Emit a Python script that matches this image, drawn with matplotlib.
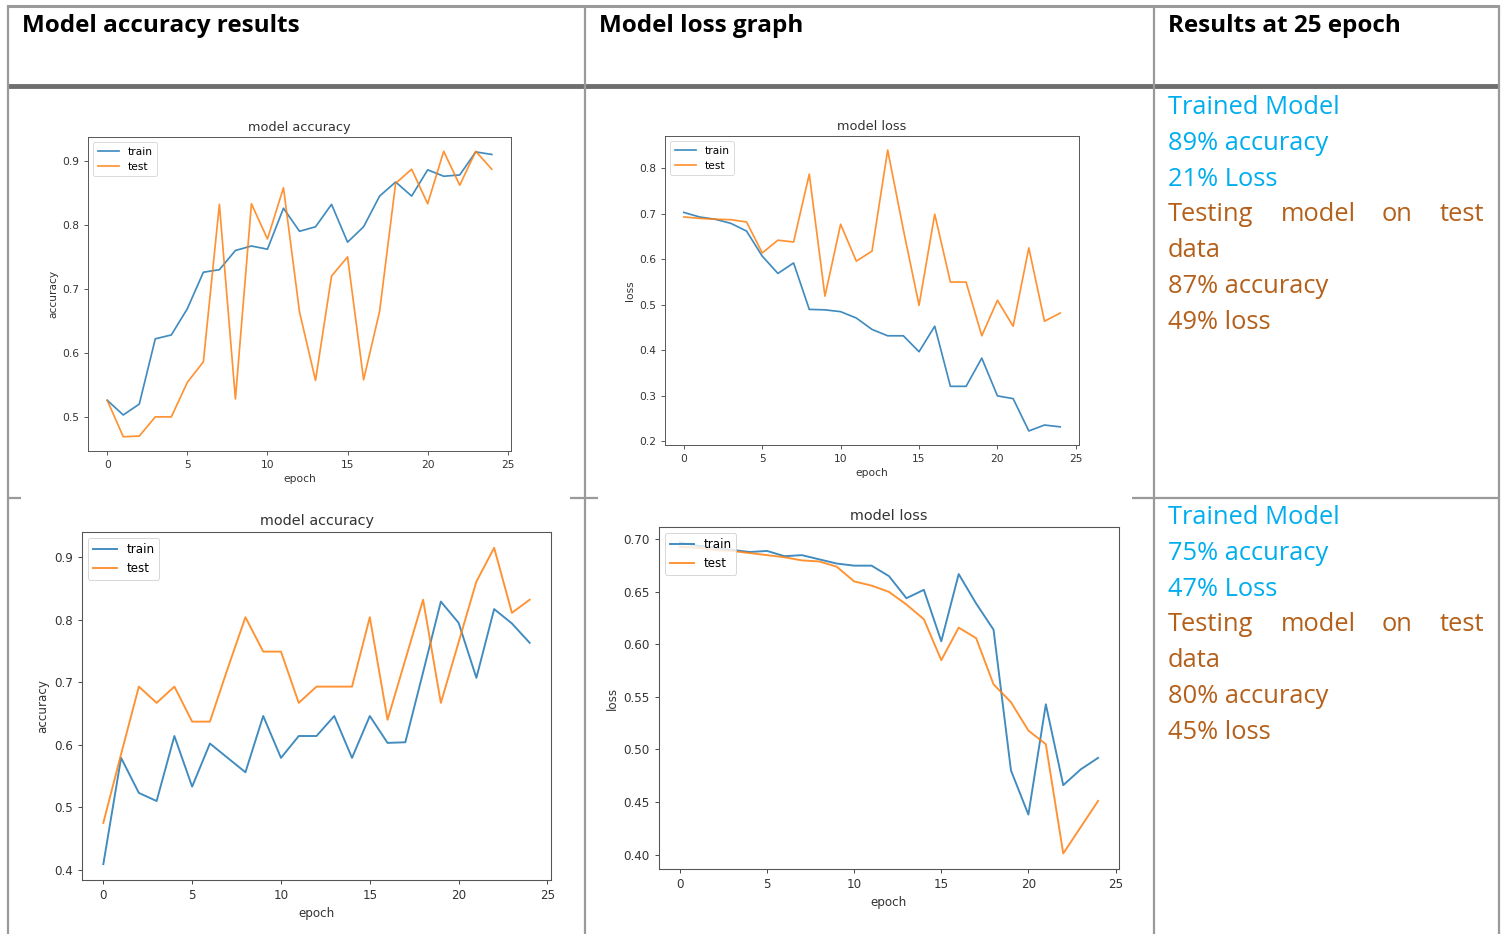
import matplotlib
matplotlib.use("Agg")
import matplotlib.pyplot as plt
import numpy as np

W, H = 1503, 934

# ---------------- data ----------------
epochs = list(range(25))

acc1_train = [0.526, 0.503, 0.520, 0.622, 0.628, 0.669, 0.726, 0.730, 0.760, 0.767,
              0.762, 0.826, 0.790, 0.797, 0.832, 0.773, 0.797, 0.845, 0.867, 0.845,
              0.886, 0.876, 0.878, 0.914, 0.910]
acc1_test = [0.526, 0.469, 0.470, 0.500, 0.500, 0.554, 0.586, 0.832, 0.528, 0.833,
             0.778, 0.858, 0.664, 0.557, 0.720, 0.750, 0.558, 0.665, 0.865, 0.887,
             0.833, 0.915, 0.862, 0.915, 0.887]

loss1_train = [0.703, 0.693, 0.688, 0.679, 0.662, 0.607, 0.569, 0.592, 0.490, 0.489,
               0.485, 0.471, 0.446, 0.432, 0.432, 0.397, 0.453, 0.321, 0.321, 0.383,
               0.300, 0.294, 0.223, 0.236, 0.232]
loss1_test = [0.693, 0.690, 0.688, 0.687, 0.682, 0.614, 0.642, 0.638, 0.787, 0.519,
              0.677, 0.596, 0.618, 0.840, 0.665, 0.499, 0.699, 0.550, 0.550, 0.432,
              0.510, 0.453, 0.625, 0.464, 0.482]

acc2_train = [0.409, 0.579, 0.523, 0.510, 0.614, 0.533, 0.602, 0.579, 0.556, 0.646,
              0.579, 0.614, 0.614, 0.646, 0.579, 0.646, 0.603, 0.604, 0.716, 0.829,
              0.795, 0.707, 0.817, 0.794, 0.763]
acc2_test = [0.475, 0.585, 0.693, 0.667, 0.693, 0.637, 0.637, 0.722, 0.804, 0.749,
             0.749, 0.667, 0.693, 0.693, 0.693, 0.804, 0.640, 0.736, 0.832, 0.667,
             0.764, 0.861, 0.915, 0.811, 0.832]

loss2_train = [0.697, 0.694, 0.692, 0.690, 0.688, 0.689, 0.684, 0.685, 0.681, 0.677,
               0.675, 0.675, 0.665, 0.644, 0.652, 0.603, 0.667, 0.639, 0.614, 0.480,
               0.438, 0.543, 0.466, 0.481, 0.492]
loss2_test = [0.693, 0.692, 0.690, 0.689, 0.687, 0.685, 0.683, 0.680, 0.679, 0.674,
              0.660, 0.656, 0.650, 0.638, 0.624, 0.585, 0.616, 0.606, 0.562, 0.545,
              0.518, 0.505, 0.401, 0.426, 0.451]

headers = ["Model accuracy results", "Model loss graph", "Results at 25 epoch"]
res1_blue = ["Trained Model", "89% accuracy", "21% Loss"]
res1_brown = ["87% accuracy", "49% loss"]
res2_blue = ["Trained Model", "75% accuracy", "47% Loss"]
res2_brown = ["80% accuracy", "45% loss"]
testing_words = ["Testing", "model", "on", "test"]

BLUE_TXT = "#00AEEF"
BROWN_TXT = "#B4601A"
LINE_GRAY = "#9a9a9a"

fig = plt.figure(figsize=(W / 100, H / 100), dpi=100)
fig.patch.set_facecolor("white")

# background / table layer in pixel coordinates
bg = fig.add_axes([0, 0, 1, 1], zorder=0)
bg.set_xlim(0, W)
bg.set_ylim(H, 0)
bg.axis("off")

# table borders
bg.plot([7, 1498], [6, 6], color=LINE_GRAY, lw=2.2, solid_capstyle="butt")
bg.plot([7, 1498], [85.5, 85.5], color="#6e6e6e", lw=3.5, solid_capstyle="butt")
for x in [7.5, 584.5, 1153.5, 1498.5]:
    bg.plot([x, x], [5, H], color=LINE_GRAY, lw=1.6, solid_capstyle="butt")
for x0, x1 in [(7, 21), (570, 598), (1132, 1498)]:
    bg.plot([x0, x1], [497.5, 497.5], color=LINE_GRAY, lw=1.6, solid_capstyle="butt")

# headers
for x, t in zip([22, 599, 1168], headers):
    bg.text(x, 25.5, t, fontsize=17.5, fontweight="bold", family="Open Sans",
            ha="left", va="center", color="black")

TXT_FS = 18.4


# results text
def results(y0, blue, brown):
    step = 35.8
    y = y0
    for t in blue:
        bg.text(1168, y, t, fontsize=TXT_FS, family="Open Sans", color=BLUE_TXT,
                ha="left", va="center")
        y += step
    for x, w, ha in zip([1168, 1281, 1382, 1484], testing_words,
                        ["left", "left", "left", "right"]):
        bg.text(x, y, w, fontsize=TXT_FS, family="Open Sans", color=BROWN_TXT,
                ha=ha, va="center")
    y += step
    bg.text(1168, y, "data", fontsize=TXT_FS, family="Open Sans", color=BROWN_TXT,
            ha="left", va="center")
    y += step
    for t in brown:
        bg.text(1168, y, t, fontsize=TXT_FS, family="Open Sans", color=BROWN_TXT,
                ha="left", va="center")
        y += step


results(107.5, res1_blue, res1_brown)
results(517.5, res2_blue, res2_brown)


def px_rect(l, t, r, b):
    return [l / W, 1 - b / H, (r - l) / W, (b - t) / H]


def make_plot(rect, train, test, title, ylabel, s):
    ax = fig.add_axes(px_rect(*rect), zorder=2)
    ax.plot(epochs, train, color="#1f77b4", lw=1.6 * s, alpha=0.85, label="train")
    ax.plot(epochs, test, color="#ff7f0e", lw=1.6 * s, alpha=0.85, label="test")
    ax.set_title(title, fontsize=12 * s, color="#333333", pad=6 * s)
    ax.set_xlabel("epoch", fontsize=10 * s, color="#333333", labelpad=4 * s)
    ax.set_ylabel(ylabel, fontsize=10 * s, color="#333333", labelpad=4 * s)
    ax.tick_params(labelsize=10 * s, colors="#444444", length=3.5 * s,
                   width=0.8 * s, labelcolor="#333333")
    ax.set_xticks([0, 5, 10, 15, 20, 25])
    for sp in ax.spines.values():
        sp.set_color("#555555")
        sp.set_linewidth(0.9 * s)
    leg = ax.legend(loc="upper left", fontsize=10 * s, frameon=True)
    leg.get_frame().set_linewidth(0.8 * s)
    return ax


make_plot((88, 137, 511, 451), acc1_train, acc1_test, "model accuracy", "accuracy", 0.77)
make_plot((665, 136, 1079, 445), loss1_train, loss1_test, "model loss", "loss", 0.77)
make_plot((82, 532, 551, 880), acc2_train, acc2_test, "model accuracy", "accuracy", 0.86)
make_plot((659, 527, 1119, 869), loss2_train, loss2_test, "model loss", "loss", 0.86)

fig.savefig("out.png", dpi=100, facecolor="white")
